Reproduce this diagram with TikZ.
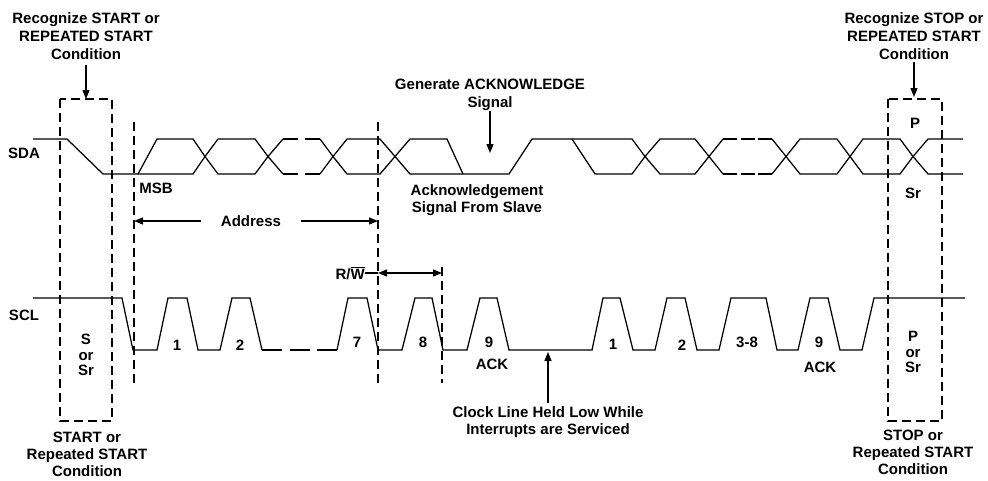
\documentclass[tikz,border=0pt]{standalone}
\usepackage{fontspec}
\setmainfont{Liberation Sans}
\usetikzlibrary{arrows.meta}
\begin{document}
\begin{tikzpicture}[x=1pt,y=-1pt,
  wave/.style={line width=1.25pt, line join=miter},
  guide/.style={line width=1.25pt, dash pattern=on 9pt off 5pt},
  lbl/.style={font=\fontsize{15}{18}\selectfont\bfseries, inner sep=0pt},
  mlbl/.style={lbl, align=center, anchor=north},
  slbl/.style={font=\fontsize{15}{15.5}\selectfont\bfseries, inner sep=0pt, align=center, anchor=north},
  arr/.style={line width=1.25pt, -{Triangle[length=9pt,width=7pt]}},
  darr/.style={line width=1.25pt, {Triangle[length=9pt,width=7pt]}-{Triangle[length=9pt,width=7pt]}}
]
\useasboundingbox (0,0) rectangle (988,480);

% ---------- SDA ----------
\draw[wave] (33,139) -- (67,139) -- (103,174) -- (193,174) -- (205,156.5);
\draw[wave] (138,174) -- (157,139) -- (193,139) -- (205,156.5);
\draw[wave] (205,156.5) -- (218,139) -- (255,139) -- (268,156.5) -- (255,174) -- (218,174) -- cycle;
\draw[wave] (283,139) -- (268,156.5) -- (283,174);
\draw[wave] (320,139) -- (333,156.5) -- (320,174);
\draw[wave, dash pattern=on 15pt off 7pt] (283,139) -- (320,139) (283,174) -- (320,174);
\draw[wave] (333,156.5) -- (347,139) -- (380,139) -- (395,156.5) -- (380,174) -- (347,174) -- cycle;
\draw[wave] (395,156.5) -- (410,139) -- (447,139) -- (463,174);
\draw[wave] (395,156.5) -- (410,174) -- (509,174) -- (532,139) -- (572,139) -- (595,174) -- (632,174) -- (645,156.5);
\draw[wave] (572,139) -- (632,139) -- (645,156.5);
\draw[wave] (645,156.5) -- (660,139) -- (695,139) -- (709,156.5) -- (695,174) -- (660,174) -- cycle;
\draw[wave] (723,139) -- (709,156.5) -- (723,174);
\draw[wave] (772,139) -- (786,156.5) -- (772,174);
\draw[wave, dash pattern=on 14pt off 3.5pt] (723,139) -- (772,139) (723,174) -- (772,174);
\draw[wave] (786,156.5) -- (800,139) -- (837,139) -- (850,156.5) -- (837,174) -- (800,174) -- cycle;
\draw[wave] (850,156.5) -- (863,139) -- (900,139) -- (913,156.5) -- (900,174) -- (863,174) -- cycle;
\draw[wave] (963,139) -- (928,139) -- (913,156.5) -- (928,174) -- (963,174);

% ---------- SCL ----------
\draw[wave] (33,298) -- (122,298) -- (133,350) -- (157,350) -- (168,298) -- (187,298) -- (198,350)
  -- (220,350) -- (232,298) -- (250,298) -- (262,350);
\draw[wave, dash pattern=on 20pt off 7.5pt] (262,350) -- (337,350);
\draw[wave] (337,350) -- (348,298) -- (367,298) -- (378,350) -- (402,350) -- (415,298) -- (432,298)
  -- (443,350) -- (467,350) -- (480,298) -- (497,298) -- (509,350) -- (592,350) -- (603,298)
  -- (620,298) -- (633,350) -- (655,350) -- (667,298) -- (685,298) -- (697,350) -- (719,350)
  -- (731,298) -- (766,298) -- (777,350) -- (798,350) -- (810,298) -- (828,298) -- (840,350)
  -- (862,350) -- (874,298) -- (965,298);

% ---------- dashed guides ----------
\draw[guide] (60,99) rectangle (112,421);
\draw[guide] (888,99) rectangle (942,421);
\draw[guide] (134,122) -- (134,383);
\draw[guide] (378,122) -- (378,383);
\draw[guide] (442,267) -- (442,383);

% ---------- coordinates ----------
\coordinate (startTop) at (86,99);
\coordinate (stopTop) at (914,97);
\coordinate (ackTip) at (490,153);
\coordinate (holdTip) at (548,352);
\coordinate (addrL) at (134,221);
\coordinate (addrR) at (378,221);
\coordinate (rwl) at (378,273);
\coordinate (rwr) at (442,273);

% ---------- labels ----------
\node[lbl] (sda) at (24,153) {SDA};
\node[lbl] (scl) at (24,315) {SCL};
\node[lbl] (msb) at (156,188) {MSB};
\node[lbl] (ptop) at (915,123) {P};
\node[lbl] (srtop) at (913,193) {Sr};

\node[mlbl] (recstart) at (86,12.6) {Recognize START or\\REPEATED START\\Condition};
\node[mlbl] (recstop) at (914,12.6) {Recognize STOP or\\REPEATED START\\Condition};
\node[mlbl] (genack) at (490,78.6) {Generate ACKNOWLEDGE\\Signal};
\node[mlbl, font=\fontsize{15}{17}\selectfont\bfseries] (ackslave) at (477,184.6) {Acknowledgement\\Signal From Slave};
\node[mlbl, font=\fontsize{15}{17}\selectfont\bfseries] (hold) at (548,406.6) {Clock Line Held Low While\\Interrupts are Serviced};
\node[mlbl, font=\fontsize{15}{17}\selectfont\bfseries] (startc) at (87,431.6) {START or\\Repeated START\\Condition};
\node[mlbl, font=\fontsize{15}{17}\selectfont\bfseries] (stopc) at (913,429.6) {STOP or\\Repeated START\\Condition};

\node[slbl] (sosr) at (86,334) {S\\or\\Sr};
\node[slbl] (posr) at (913,331) {P\\or\\Sr};

\node[lbl] (c1) at (177,345) {1};
\node[lbl] (c2) at (240,345) {2};
\node[lbl] (c7) at (357,342) {7};
\node[lbl] (c8) at (423,342) {8};
\node[lbl] (c9) at (489,342) {9};
\node[lbl] (ack1) at (492,364) {ACK};
\node[lbl] (d1) at (613,344) {1};
\node[lbl] (d2) at (682,345) {2};
\node[lbl] (d38) at (747,342) {3-8};
\node[lbl] (d9) at (819,342) {9};
\node[lbl] (ack2) at (820,367) {ACK};

\node[lbl, inner xsep=20pt] (addr) at (251,221) {Address};
\node[lbl, anchor=east] (rw) at (365,273) {R/$\overline{\mbox{W}}$};

% ---------- arrows ----------
\draw[arr, shorten <=5pt] (recstart) -- (startTop);
\draw[arr, shorten <=2pt] (recstop) -- (stopTop);
\draw[arr] (genack) -- (ackTip);
\draw[arr, shorten <=4pt] (hold) -- (holdTip);
\draw[arr] (addr) -- (addrL);
\draw[arr] (addr) -- (addrR);
\draw[line width=1.25pt] (rw) -- (rwl);
\draw[darr] (rwl) -- (rwr);
\end{tikzpicture}
\end{document}
